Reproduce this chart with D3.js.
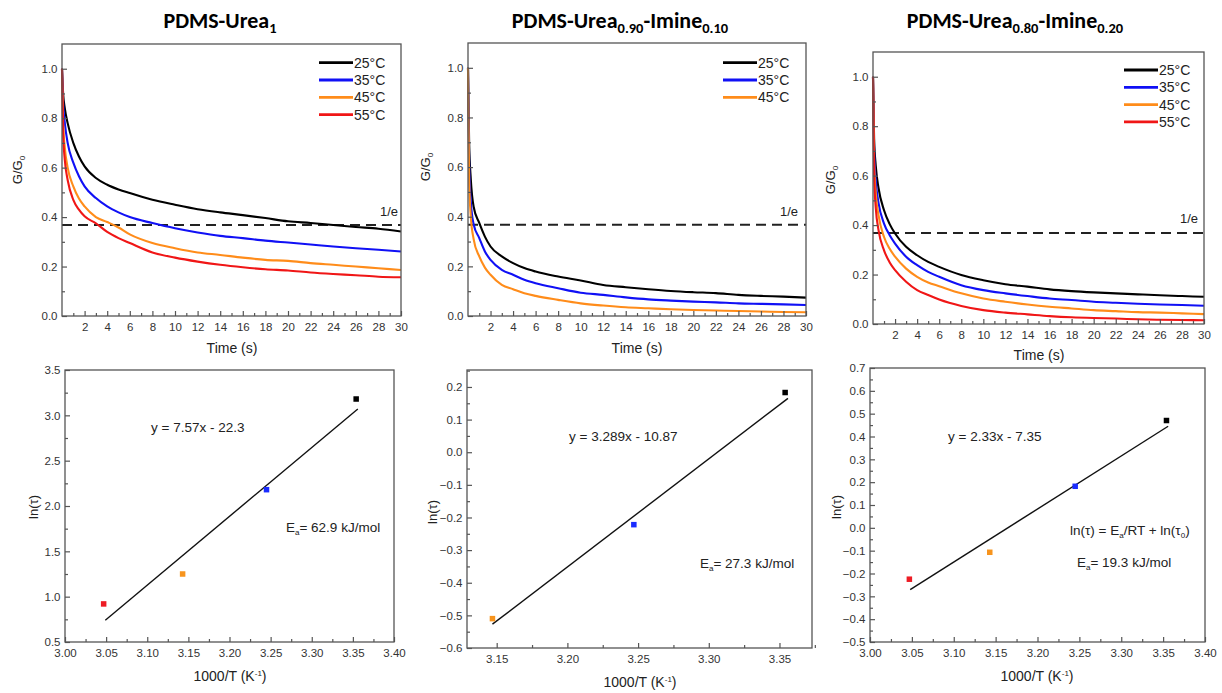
<!DOCTYPE html>
<html><head><meta charset="utf-8">
<script src="https://cdn.jsdelivr.net/npm/d3@7"></script>
<style>
body{margin:0;background:#fff}
svg{display:block}
text{font-family:'Liberation Sans',Arial,sans-serif;fill:#222}
.title{font-family:Carlito,Lato,'Open Sans',sans-serif;font-weight:bold;fill:#000}
.tick text{fill:#333}
</style>
</head><body><svg id="c" width="1222" height="693"></svg>
<script>
// ---------- DATA ----------
const titles = [
  [["PDMS-Urea",0],["1",1]],
  [["PDMS-Urea",0],["0.90",1],["-Imine",0],["0.10",1]],
  [["PDMS-Urea",0],["0.80",1],["-Imine",0],["0.20",1]]
];
const tempLabels = ["25°C","35°C","45°C","55°C"];
const timeS = [0,0.1,0.25,0.5,1,1.5,2,3,4,5,6,8,10,12,14,16,18,20,22,24,26,28,30];

// PDMS-Urea1 relaxation G/G0
const u1_25 = [1.0,0.90,0.84,0.78,0.70,0.645,0.605,0.558,0.531,0.512,0.497,0.47,0.45,0.432,0.419,0.408,0.396,0.383,0.376,0.368,0.36,0.353,0.342];
const u1_35 = [1.0,0.86,0.78,0.70,0.62,0.565,0.524,0.477,0.443,0.419,0.40,0.376,0.355,0.338,0.324,0.315,0.305,0.297,0.289,0.281,0.274,0.268,0.261];
const u1_45 = [1.0,0.78,0.68,0.60,0.524,0.475,0.443,0.40,0.38,0.358,0.33,0.295,0.274,0.257,0.247,0.236,0.227,0.223,0.214,0.207,0.20,0.193,0.186];
const u1_55 = [1.0,0.74,0.63,0.55,0.47,0.43,0.403,0.375,0.34,0.315,0.295,0.257,0.236,0.22,0.207,0.197,0.189,0.184,0.176,0.17,0.165,0.159,0.157];
// PDMS-Urea0.90-Imine0.10
const u90_25 = [1.0,0.70,0.55,0.44,0.375,0.32,0.28,0.24,0.213,0.193,0.179,0.159,0.143,0.125,0.116,0.108,0.101,0.096,0.092,0.085,0.081,0.078,0.074];
const u90_35 = [1.0,0.62,0.46,0.37,0.314,0.26,0.226,0.186,0.166,0.146,0.132,0.112,0.094,0.085,0.075,0.067,0.062,0.058,0.055,0.051,0.049,0.047,0.044];
const u90_45 = [1.0,0.55,0.40,0.31,0.24,0.195,0.166,0.125,0.108,0.092,0.081,0.065,0.051,0.042,0.035,0.031,0.027,0.024,0.022,0.020,0.018,0.016,0.015];
// PDMS-Urea0.80-Imine0.20
const u80_25 = [1.0,0.75,0.64,0.55,0.46,0.405,0.366,0.312,0.278,0.251,0.231,0.198,0.177,0.161,0.151,0.14,0.133,0.128,0.124,0.12,0.116,0.113,0.11];
const u80_35 = [1.0,0.70,0.58,0.49,0.406,0.36,0.325,0.272,0.238,0.211,0.191,0.157,0.137,0.124,0.113,0.103,0.097,0.09,0.086,0.082,0.079,0.077,0.074];
const u80_45 = [1.0,0.66,0.53,0.44,0.352,0.305,0.272,0.224,0.191,0.168,0.153,0.124,0.103,0.09,0.079,0.07,0.063,0.056,0.052,0.048,0.046,0.043,0.04];
const u80_55 = [1.0,0.60,0.47,0.38,0.298,0.25,0.218,0.171,0.137,0.117,0.099,0.073,0.056,0.046,0.039,0.032,0.027,0.024,0.022,0.019,0.017,0.016,0.015];
const oneOverE = 0.368;

// Arrhenius plots
const invT = [3.047,3.143,3.245,3.354];        // 55,45,35,25 °C
const lnTau_u1  = [0.92,1.25,2.18,3.18];
const invT_u90  = [3.147,3.247,3.354];
const lnTau_u90 = [-0.51,-0.222,0.183];
const lnTau_u80 = [-0.225,-0.107,0.182,0.470];
const fitX_u1 = [3.049,3.356],  fitY_u1 = [0.74,3.07];
const fitX_u90 = [3.147,3.356], fitY_u90 = [-0.527,0.165];
const fitX_u80 = [3.048,3.356], fitY_u80 = [-0.271,0.445];
const eqText = ["y = 7.57x - 22.3","y = 3.289x - 10.87","y = 2.33x - 7.35"];
const eaText = ["= 62.9 kJ/mol","= 27.3 kJ/mol","= 19.3 kJ/mol"];

// ---------- STYLE ----------
const colT = ["#000000","#1010f5","#ff8c1a","#f01616"]; // curves
const colM = ["#ed1c24","#f7941d","#1a2cff","#000000"]; // markers 55,45,35,25

const svg = d3.select("#c");
const FR = "#555";

function frame(g,w,h){
  g.append("rect").attr("x",0).attr("y",0).attr("width",w).attr("height",h)
   .attr("fill","none").attr("stroke",FR).attr("stroke-width",1.3);
}
function axes(g,x,y,w,h,xt,xm,yt,ym,xfmt,yfmt){
  const gx = g.append("g").attr("transform",`translate(0,${h})`)
    .call(d3.axisBottom(x).tickValues(xt).tickSize(-5).tickPadding(6.5).tickFormat(xfmt));
  const gxm = g.append("g").attr("transform",`translate(0,${h})`)
    .call(d3.axisBottom(x).tickValues(xm).tickSize(-3).tickFormat(""));
  const gy = g.append("g")
    .call(d3.axisLeft(y).tickValues(yt).tickSize(-5).tickPadding(4.5).tickFormat(yfmt));
  const gym = g.append("g")
    .call(d3.axisLeft(y).tickValues(ym).tickSize(-3).tickFormat(""));
  [gx,gxm,gy,gym].forEach(a=>{
    a.select(".domain").remove();
    a.selectAll(".tick line").attr("stroke",FR).attr("stroke-width",1.2);
    a.selectAll("text").attr("font-size",11.5).attr("font-family","'Liberation Sans',Arial,sans-serif");
  });
}
function rng(a,b,s){const r=[];for(let v=a;v<=b+1e-9;v+=s)r.push(+v.toFixed(4));return r;}

// ---------- TITLES ----------
const titleX = [220,620,1015];
titles.forEach((parts,i)=>{
  const t = svg.append("text").attr("class","title").attr("x",titleX[i]).attr("y",28)
    .attr("text-anchor","middle").attr("font-size",22);
  parts.forEach(([s,sub],k)=>{
    const prevSub = k>0 && parts[k-1][1];
    const ts = t.append("tspan").text(s);
    if(sub){ ts.attr("font-size",14.5).attr("dy",5); }
    else { ts.attr("font-size",22); if(prevSub) ts.attr("dy",-5); }
  });
});

// ---------- DECAY PANELS ----------
const decayPanels = [
  {L:62,R:401,T:44,B:316, series:[u1_25,u1_35,u1_45,u1_55], legX:319, legY:62.7, eX:398, eY:216, yl:[17,170], xl:[232,353]},
  {L:468,R:806,T:43,B:316, series:[u90_25,u90_35,u90_45], legX:723, legY:62.7, eX:798, eY:216, yl:[425,167], xl:[637,353]},
  {L:873,R:1204,T:52,B:324, series:[u80_25,u80_35,u80_45,u80_55], legX:1124, legY:70, eX:1198, eY:223, yl:[830,180], xl:[1039,360]}
];
decayPanels.forEach(p=>{
  const w=p.R-p.L, h=p.B-p.T;
  const g = svg.append("g").attr("transform",`translate(${p.L},${p.T})`);
  const x = d3.scaleLinear().domain([0,30]).range([0,w]);
  const y = d3.scaleLinear().domain([0,1.1]).range([h,0]);
  // dashed 1/e
  g.append("line").attr("x1",x(0)).attr("x2",x(30)).attr("y1",y(oneOverE)).attr("y2",y(oneOverE))
    .attr("stroke","#222").attr("stroke-width",2).attr("stroke-dasharray","10,6");
  const line = d3.line().x((d,i)=>x(timeS[i])).y(d=>y(d)).curve(d3.curveMonotoneX);
  p.series.forEach((s,k)=>{
    g.append("path").attr("d",line(s)).attr("fill","none").attr("stroke",colT[k]).attr("stroke-width",2.1);
  });
  axes(g,x,y,w,h,rng(2,30,2),rng(1,29,2),rng(0,1.0,0.2),rng(0.1,1.09,0.2),d3.format("d"),d3.format(".1f"));
  frame(g,w,h);
  // legend
  p.series.forEach((s,k)=>{
    const yy = p.legY + k*17.3;
    svg.append("line").attr("x1",p.legX).attr("x2",p.legX+34).attr("y1",yy).attr("y2",yy)
      .attr("stroke",colT[k]).attr("stroke-width",2.8);
    svg.append("text").attr("x",p.legX+35).attr("y",yy+5).attr("font-size",14).text(tempLabels[k]);
  });
  svg.append("text").attr("x",p.eX).attr("y",p.eY).attr("text-anchor","end").attr("font-size",13).text("1/e");
  const yl = svg.append("text").attr("transform",`translate(${p.yl[0]+5},${p.yl[1]}) rotate(-90)`)
    .attr("text-anchor","middle").attr("font-size",13);
  yl.append("tspan").text("G/G");
  yl.append("tspan").text("0").attr("font-size",8).attr("dy",3);
  svg.append("text").attr("x",p.xl[0]).attr("y",p.xl[1]).attr("text-anchor","middle").attr("font-size",14).text("Time (s)");
});

// ---------- ARRHENIUS PANELS ----------
const arrPanels = [
  {L:65,R:394,T:370,B:642, xd:[3.0,3.4], yd:[0.5,3.5], xt:rng(3.0,3.4,0.05), xm:rng(3.025,3.4,0.05), yt:rng(0.5,3.5,0.5), ym:rng(0.75,3.5,0.5),
   px:invT, py:lnTau_u1, pc:colM, fx:fitX_u1, fy:fitY_u1, yf:".1f",
   eq:[151,432], ea:[286,532], form:null, yl:[33,507], xl:[230,681]},
  {L:467,R:812,T:370,B:648, xd:[3.129,3.373], yd:[-0.6,0.252], xt:rng(3.15,3.35,0.05), xm:rng(3.175,3.375,0.05), yt:rng(-0.6,0.2,0.1), ym:rng(-0.55,0.25,0.1),
   px:invT_u90, py:lnTau_u90, pc:colM.slice(1), fx:fitX_u90, fy:fitY_u90, yf:".1f",
   eq:[569,441], ea:[700,568], form:null, yl:[432,512], xl:[640,687]},
  {L:870,R:1205,T:368,B:642, xd:[3.0,3.4], yd:[-0.5,0.7], xt:rng(3.0,3.4,0.05), xm:rng(3.025,3.4,0.05), yt:rng(-0.5,0.7,0.1), ym:rng(-0.45,0.7,0.1),
   px:invT, py:lnTau_u80, pc:colM, fx:fitX_u80, fy:fitY_u80, yf:".1f",
   eq:[948,441], ea:[1077,567], form:[1070,535], yl:[836,507], xl:[1037,681]}
];
arrPanels.forEach((p,i)=>{
  const w=p.R-p.L, h=p.B-p.T;
  const g = svg.append("g").attr("transform",`translate(${p.L},${p.T})`);
  const x = d3.scaleLinear().domain(p.xd).range([0,w]);
  const y = d3.scaleLinear().domain(p.yd).range([h,0]);
  axes(g,x,y,w,h,p.xt,p.xm,p.yt,p.ym,d3.format(".2f"),d3.format(p.yf));
  frame(g,w,h);
  g.append("line").attr("x1",x(p.fx[0])).attr("x2",x(p.fx[1])).attr("y1",y(p.fy[0])).attr("y2",y(p.fy[1]))
    .attr("stroke","#111").attr("stroke-width",1.4);
  const ms=5.5;
  p.px.forEach((v,k)=>{
    g.append("rect").attr("x",x(v)-ms/2).attr("y",y(p.py[k])-ms/2).attr("width",ms).attr("height",ms)
      .attr("fill",p.pc[k]);
  });
  svg.append("text").attr("x",p.eq[0]).attr("y",p.eq[1]).attr("font-size",13.5).text(eqText[i]);
  const ea = svg.append("text").attr("x",p.ea[0]).attr("y",p.ea[1]).attr("font-size",13.5);
  ea.append("tspan").text("E");
  ea.append("tspan").text("a").attr("font-size",8).attr("dy",3);
  ea.append("tspan").text(eaText[i]).attr("dy",-3);
  if(p.form){
    const f = svg.append("text").attr("x",p.form[0]).attr("y",p.form[1]).attr("font-size",13.5);
    f.append("tspan").text("ln(τ) = E");
    f.append("tspan").text("a").attr("font-size",8).attr("dy",3);
    f.append("tspan").text("/RT + ln(τ").attr("dy",-3);
    f.append("tspan").text("0").attr("font-size",8).attr("dy",3);
    f.append("tspan").text(")").attr("dy",-3);
  }
  const yl = svg.append("text").attr("transform",`translate(${p.yl[0]+5},${p.yl[1]}) rotate(-90)`)
    .attr("text-anchor","middle").attr("font-size",13).text("ln(τ)");
  const xl = svg.append("text").attr("x",p.xl[0]).attr("y",p.xl[1]).attr("text-anchor","middle").attr("font-size",14);
  xl.append("tspan").text("1000/T (K");
  xl.append("tspan").text("-1").attr("font-size",8).attr("dy",-5);
  xl.append("tspan").text(")").attr("dy",5);
});
</script></body></html>
